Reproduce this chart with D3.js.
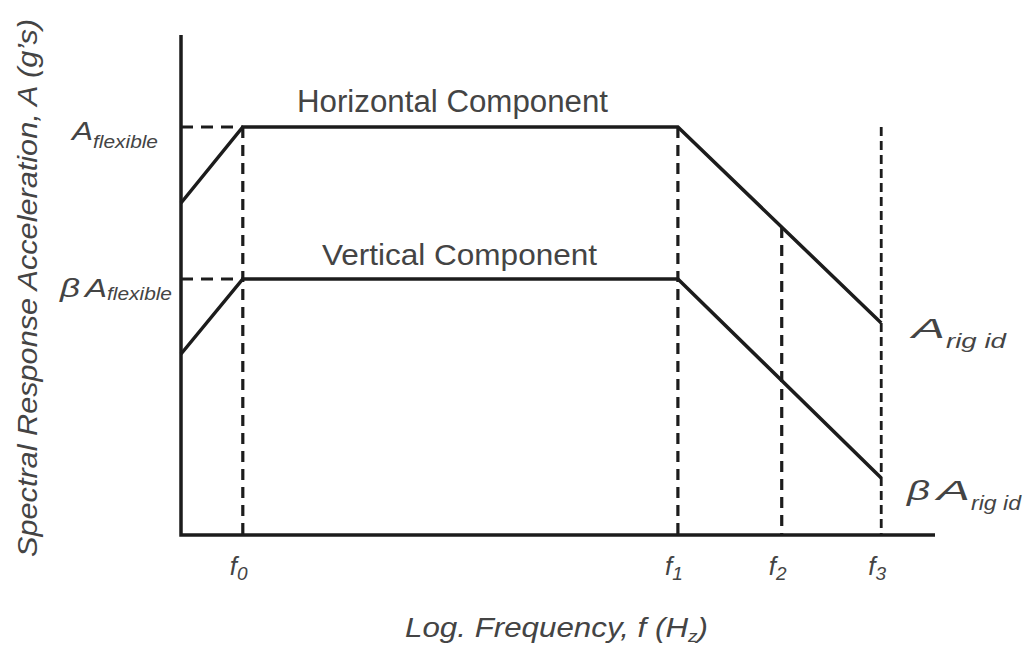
<!DOCTYPE html>
<html>
<head>
<meta charset="utf-8">
<script src="https://cdn.jsdelivr.net/npm/d3@7"></script>
<style>
  body { margin: 0; background: #fff; }
  text { font-family: "Liberation Sans", Arial, sans-serif; fill: #444; }
</style>
</head>
<body>
<svg id="chart" width="1030" height="646"></svg>
<script>
// log-frequency break points f0..f3 (arbitrary log units)
const breakNames = ["0", "1", "2", "3"];
const breakFreq = [1.0, 8.04, 9.72, 11.33];

// spectrum corner points (freq, acceleration)
const curveFreq = [0, 1.0, 8.04, 11.33];
const horizontalSA = [6.64, 8.16, 8.16, 4.24];
const verticalSA = [3.62, 5.12, 5.12, 1.14];

const svg = d3.select("#chart");
const x = d3.scaleLinear().domain([0, 12.2]).range([181, 935]);
const y = d3.scaleLinear().domain([0, 10]).range([535, 35]);

const ink = "#1c1c1c";
const line = d3.line().x(d => x(d[0])).y(d => y(d[1]));
const hPts = curveFreq.map((f, i) => [f, horizontalSA[i]]);
const vPts = curveFreq.map((f, i) => [f, verticalSA[i]]);

// value of a curve at a freq (for the f2 guide)
const valueAt = (pts, f) => {
  for (let i = 1; i < pts.length; i++) {
    if (f <= pts[i][0]) {
      const t = (f - pts[i-1][0]) / (pts[i][0] - pts[i-1][0]);
      return d3.interpolateNumber(pts[i-1][1], pts[i][1])(t);
    }
  }
  return pts[pts.length-1][1];
};

const guides = svg.append("g").attr("stroke", ink).attr("fill", "none");
// horizontal dashes from the y axis
[horizontalSA[1], verticalSA[1]].forEach(v => {
  guides.append("line")
    .attr("x1", x(0)).attr("x2", x(breakFreq[0]))
    .attr("y1", y(v)).attr("y2", y(v))
    .attr("stroke-width", 3).attr("stroke-dasharray", "12,8");
});
// vertical dashes
breakFreq.forEach((f, i) => {
  let top = horizontalSA[1];
  if (i === 2) top = valueAt(hPts, f);
  guides.append("line")
    .attr("x1", x(f)).attr("x2", x(f))
    .attr("y1", y(top)).attr("y2", y(0))
    .attr("stroke-width", i === 3 ? 2.8 : 3.2)
    .attr("stroke-dasharray", i === 3 ? "9,5" : "11,7");
});

// spectrum lines
[hPts, vPts].forEach(p => {
  svg.append("path").attr("d", line(p))
    .attr("fill", "none").attr("stroke", ink)
    .attr("stroke-width", 3.5).attr("stroke-linejoin", "miter");
});

// axes
svg.append("path")
  .attr("d", `M${x(0)},${y(10)}V${y(0)}H${x(12.2)}`)
  .attr("fill", "none").attr("stroke", ink).attr("stroke-width", 3.5);

// component labels
svg.append("text").attr("x", 297).attr("y", 112)
  .attr("font-size", 31).attr("textLength", 311).attr("lengthAdjust", "spacingAndGlyphs")
  .text("Horizontal Component");
svg.append("text").attr("x", 322).attr("y", 265)
  .attr("font-size", 30).attr("textLength", 275).attr("lengthAdjust", "spacingAndGlyphs")
  .text("Vertical Component");

// helper: letter + subscript, each squeezed to a given width
const stretchy = (g, xx, yy, size, w, str) => g.append("text")
  .attr("x", xx).attr("y", yy).attr("font-style", "italic").attr("font-size", size)
  .attr("textLength", w).attr("lengthAdjust", "spacingAndGlyphs").text(str);

// y labels
const yl = svg.append("g");
stretchy(yl, 72, y(horizontalSA[1]) + 13, 26, 21, "A");
stretchy(yl, 93, y(horizontalSA[1]) + 21, 19, 65, "flexible");
stretchy(yl, 60, y(verticalSA[1]) + 18, 26, 20, "\u03B2");
stretchy(yl, 85, y(verticalSA[1]) + 18, 26, 22, "A");
stretchy(yl, 107, y(verticalSA[1]) + 21, 19, 65, "flexible");

// rigid labels
const rl = svg.append("g");
stretchy(rl, 912, y(horizontalSA[3]) + 15, 28, 33, "A");
stretchy(rl, 946, y(horizontalSA[3]) + 25, 20, 60, "rig id");
stretchy(rl, 907, y(verticalSA[3]) + 22, 28, 23, "\u03B2");
stretchy(rl, 937, y(verticalSA[3]) + 22, 28, 33, "A");
stretchy(rl, 971, y(verticalSA[3]) + 32, 20, 50, "rig id");

// x tick labels
breakFreq.forEach((f, i) => {
  const t = svg.append("text").attr("x", x(f) - 13).attr("y", 575)
    .attr("font-style", "italic").attr("font-size", 26);
  t.append("tspan").text("f");
  t.append("tspan").attr("font-size", 19).attr("dy", 5).text(breakNames[i]);
});

// axis titles
const xt = svg.append("text").attr("x", 405).attr("y", 637)
  .attr("font-style", "italic").attr("font-size", 28)
  .attr("textLength", 303).attr("lengthAdjust", "spacingAndGlyphs");
xt.append("tspan").text("Log. Frequency, f (H");
xt.append("tspan").attr("font-size", 17).attr("dy", 5).text("z");
xt.append("tspan").attr("dy", -5).text(")");

svg.append("text")
  .attr("transform", "translate(37,288) rotate(-90)")
  .attr("text-anchor", "middle").attr("font-style", "italic").attr("font-size", 27)
  .attr("textLength", 538).attr("lengthAdjust", "spacingAndGlyphs")
  .text("Spectral Response Acceleration, A (g\u2019s)");
</script>
</body>
</html>
